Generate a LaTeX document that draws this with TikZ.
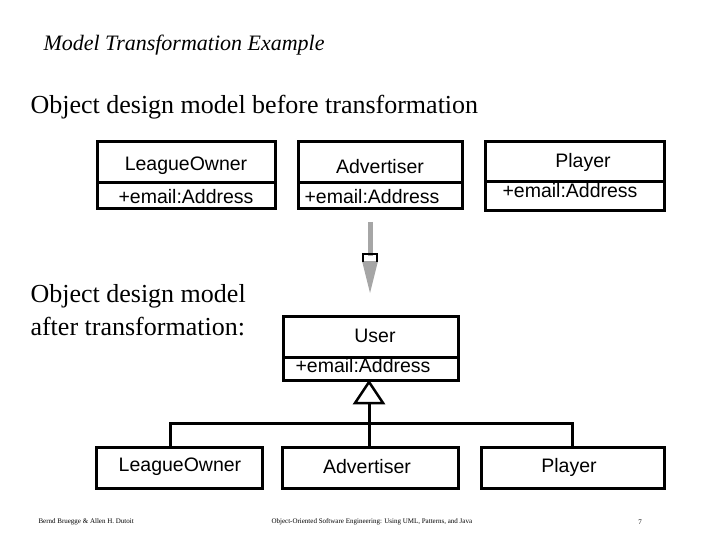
\documentclass[tikz,border=0pt]{standalone}
\usepackage{fontspec}
\setmainfont{Liberation Serif}
\setsansfont{Liberation Sans}
\begin{document}
\begin{tikzpicture}[x=1pt,y=-1pt,
  box/.style={draw,line width=3pt},
  lbl/.style={font=\sffamily\fontsize{19.5}{21}\selectfont,inner sep=0pt},
  ln/.style={line width=3pt}]
\useasboundingbox (0,0) rectangle (720,540);
\node[anchor=west,font=\itshape\fontsize{22}{24}\selectfont] (title) at (40,45) {Model Transformation Example};
\node[anchor=west,font=\fontsize{26}{28}\selectfont] (before) at (27,107) {Object design model before transformation};
\node[anchor=west,align=left,font=\fontsize{26}{33}\selectfont] (after) at (27,310) {Object design model\\after transformation:};
% top boxes
\draw[box] (97,142) rectangle (275,209); \draw[ln] (97,183)--(275,183);
\node[lbl] (lo1) at (186,166) {LeagueOwner}; \node[lbl] (lo1a) at (186,197) {+email:Address};
\draw[box] (298,142) rectangle (462,209); \draw[ln] (298,183)--(462,183);
\node[lbl] (ad1) at (380,167) {Advertiser}; \node[lbl] (ad1a) at (372,197) {+email:Address};
\draw[box] (485,142) rectangle (664,211); \draw[ln] (485,182)--(664,182);
\node[lbl] (pl1) at (583,162) {Player}; \node[lbl] (pl1a) at (570,191) {+email:Address};
% transformation arrow
\coordinate (a0) at (370,222); \coordinate (a1) at (370,256); \coordinate (a2) at (370,293);
\draw[line width=5pt,gray!70] (a0)--(a1);
\fill[gray!70] (362,261)--(378,261)--(a2)--cycle;
\draw[line width=2.5pt] (363,262)--(363,254)--(377,254)--(377,262);
% User box
\draw[box] (283,316) rectangle (458,380); \draw[ln] (283,357)--(458,357);
\node[lbl] (user) at (375,336) {User}; \node[lbl] (usera) at (363,366) {+email:Address};
% bottom boxes
\draw[box] (96,447) rectangle (262,488); \node[lbl] (lo2) at (180,467) {LeagueOwner};
\draw[box] (282,447) rectangle (458,488); \node[lbl] (ad2) at (367,467) {Advertiser};
\draw[box] (481,447) rectangle (664,488); \node[lbl] (pl2) at (569,467) {Player};
% generalization
\draw[line width=2.5pt,fill=white] (369,382)--(383,403)--(355,403)--cycle;
\draw[ln] (369,403)--(369,447);
\draw[ln] (170,447)--(170,423)--(572,423)--(572,447);
% footer
\node[anchor=west,font=\fontsize{7}{8}\selectfont] (f1) at (35,522) {Bernd Bruegge \& Allen H. Dutoit};
\node[anchor=west,font=\fontsize{7}{8}\selectfont] (f2) at (268,522) {Object-Oriented Software Engineering: Using UML, Patterns, and Java};
\node[font=\fontsize{7}{8}\selectfont] (f3) at (640,522) {7};
\end{tikzpicture}
\end{document}
